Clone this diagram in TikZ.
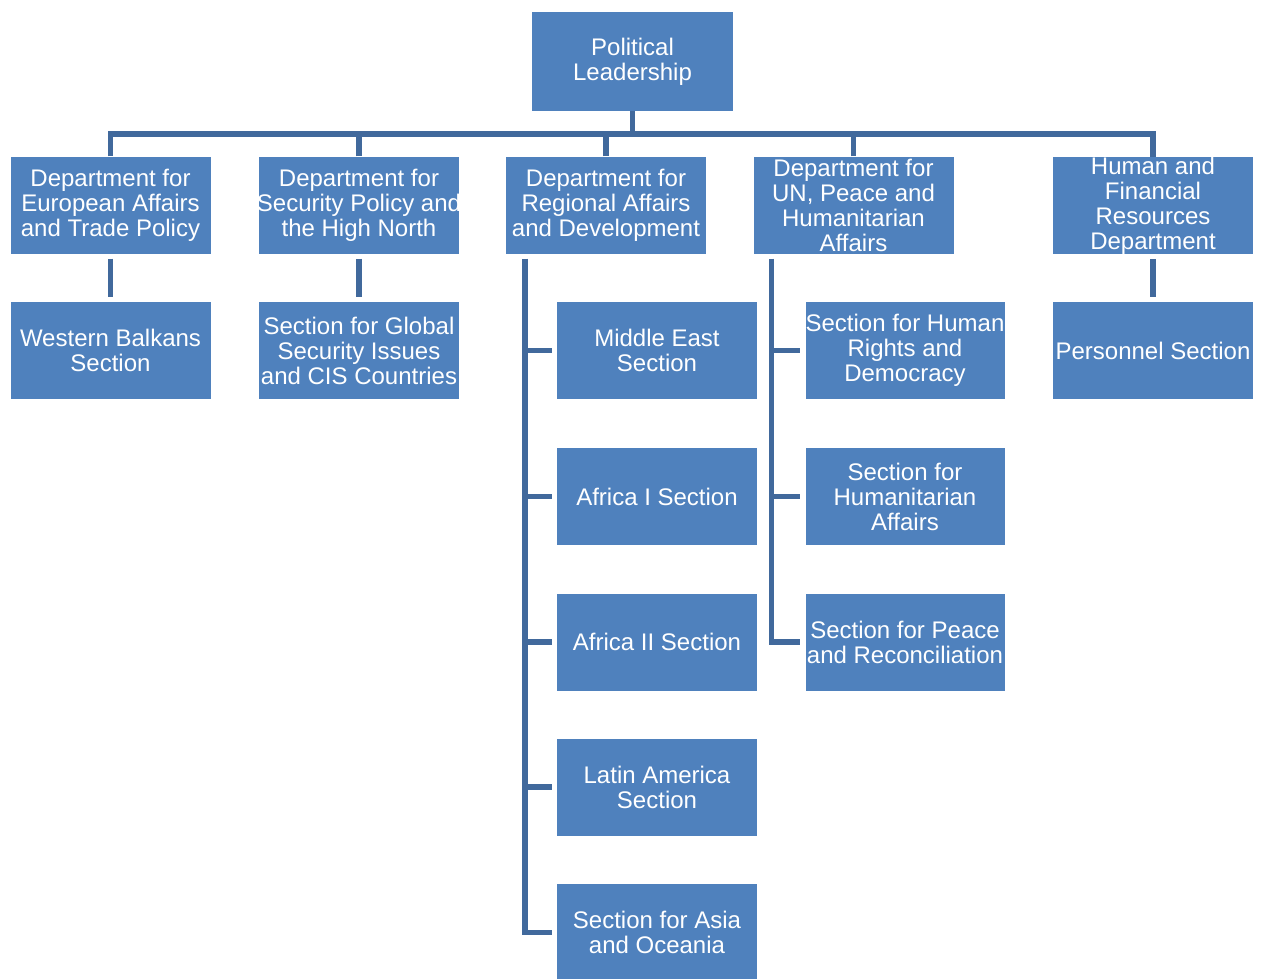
\documentclass[tikz,border=0pt]{standalone}
\usepackage{fontspec}
\setmainfont{Liberation Sans}
\usetikzlibrary{calc}
\definecolor{boxblue}{HTML}{4F81BD}
\definecolor{linkblue}{HTML}{41699C}
\newcommand{\fitline}[1]{\makebox[190pt]{#1}}
\begin{document}
\begin{tikzpicture}[x=1pt,y=-1pt,
  unit/.style={fill=boxblue,draw=none,text=white,inner sep=0pt,
    minimum width=200pt,minimum height=97pt,align=center,
    font=\fontsize{24}{25}\selectfont},
  subunit/.style={unit,minimum width=199pt},
  conn/.style={draw=linkblue,line width=5.5pt,line join=miter}]
\useasboundingbox (0,0) rectangle (1262,978);
\clip (0,0) rectangle (1262,978);
% nodes
\node[unit,minimum width=201pt,minimum height=99pt] (pl) at (632.5,61.5) {Political\\Leadership};
\node[unit] (d1) at (110.5,205) {Department for\\\fitline{European Affairs}\\\fitline{and Trade Policy}};
\node[unit] (d2) at (359,205) {Department for\\\fitline{Security Policy and}\\the High North};
\node[unit] (d3) at (606,205) {Department for\\Regional Affairs\\\fitline{and Development}};
\node[unit] (d4) at (853.5,205) {Department for\\UN, Peace and\\Humanitarian\\Affairs};
\node[unit] (d5) at (1153,205.5) {Human and\\Financial\\Resources\\Department};
\node[unit] (s1) at (110.5,350.5) {Western Balkans\\Section};
\node[unit] (s2) at (359,350.5) {Section for Global\\Security Issues\\\fitline{and CIS Countries}};
\node[unit] (s5) at (1153,350.5) {\fitline{Personnel Section}};
\node[unit] (r1) at (657,350.5) {Middle East\\Section};
\node[unit] (r2) at (657,496.5) {Africa I Section};
\node[unit] (r3) at (657,642) {Africa II Section};
\node[unit] (r4) at (657,787) {Latin America\\Section};
\node[unit] (r5) at (657,932.5) {Section for Asia\\and Oceania};
\node[subunit] (u1) at (905,350.5) {\fitline{Section for Human}\\Rights and\\Democracy};
\node[subunit] (u2) at (905,496.5) {Section for\\Humanitarian\\Affairs};
\node[subunit] (u3) at (905,642) {Section for Peace\\\fitline{and Reconciliation}};
% connectors
\coordinate (bus) at (632.5,134);
\draw[conn] (pl.south) -- (bus);
\draw[conn] (d1.north) |- (bus);
\draw[conn] (d5.north) |- (bus);
\draw[conn] (d2.north) -- (d2.north |- bus);
\draw[conn] (d3.north) -- (d3.north |- bus);
\draw[conn] (d4.north) -- (d4.north |- bus);
\draw[conn,shorten <=5pt,shorten >=5pt] (d1.south) -- (s1.north);
\draw[conn,shorten <=5pt,shorten >=5pt] (d2.south) -- (s2.north);
\draw[conn,shorten <=5pt,shorten >=5pt] (d5.south) -- (s5.north);
\coordinate (sp3) at ($(d3.south west)+(19,5)$);
\draw[conn] (sp3) |- ([xshift=-5pt]r5.west);
\foreach \r in {r1,r2,r3,r4}
  \draw[conn] (sp3 |- \r.west) -- ([xshift=-5pt]\r.west);
\coordinate (sp4) at ($(d4.south west)+(18,5)$);
\draw[conn] (sp4) |- ([xshift=-5pt]u3.west);
\foreach \r in {u1,u2}
  \draw[conn] (sp4 |- \r.west) -- ([xshift=-5pt]\r.west);
\end{tikzpicture}
\end{document}
